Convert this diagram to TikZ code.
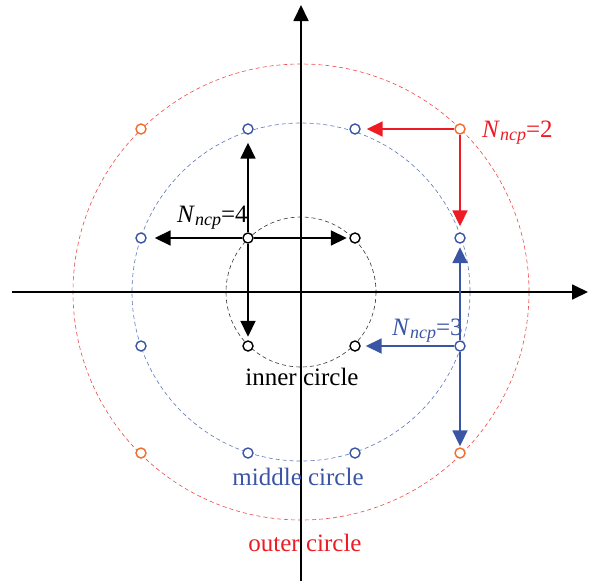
\documentclass[tikz,border=0pt]{standalone}
\usepackage{fontspec}
\setmainfont{Liberation Serif}
\usetikzlibrary{arrows.meta}
\definecolor{myred}{HTML}{ED1C24}
\definecolor{lred}{HTML}{F04848}
\definecolor{myblue}{HTML}{3A55A4}
\definecolor{lblue}{HTML}{5A74B8}
\definecolor{myorange}{HTML}{F26C2A}
\newcommand{\Nncp}[1]{\textit{N}\raisebox{-0.3ex}{\fontsize{18}{20}\selectfont\textit{ncp}}=#1}
\begin{document}
\begin{tikzpicture}[x=1pt,y=-1pt,
  pt/.style={circle,draw,line width=1.4pt,minimum size=10pt,inner sep=0pt,fill=white},
  arr/.style={line width=1.8pt,-{Triangle[length=16pt,width=15pt]}},
  ring/.style={dashed,dash pattern=on 4pt off 3pt,line width=0.6pt},
  lbl/.style={font=\fontsize{25}{30}\selectfont,inner sep=0pt,anchor=base}]
\useasboundingbox (0,0) rectangle (593,581);
% circles
\draw[ring,black!80] (301,292) circle[radius=75];
\draw[ring,lblue] (301,292) circle[radius=169];
\draw[ring,lred] (301,292) circle[radius=228];
% axes
\coordinate (xa) at (12,292);
\coordinate (xb) at (588,292);
\coordinate (ya) at (301,581);
\coordinate (yb) at (301,5);
\draw[arr] (xa) -- (xb);
\draw[arr] (ya) -- (yb);
% points
\node[pt,draw=myorange] (o1) at (141,129) {};
\node[pt,draw=myorange] (o2) at (460,129) {};
\node[pt,draw=myorange] (o3) at (141,453) {};
\node[pt,draw=myorange] (o4) at (460,453) {};
\node[pt,draw=myblue] (m1) at (248,129) {};
\node[pt,draw=myblue] (m2) at (355,129) {};
\node[pt,draw=myblue] (m3) at (141,238) {};
\node[pt,draw=myblue] (m4) at (460,238) {};
\node[pt,draw=myblue] (m5) at (141,346) {};
\node[pt,draw=myblue] (m6) at (460,346) {};
\node[pt,draw=myblue] (m7) at (248,453) {};
\node[pt,draw=myblue] (m8) at (355,453) {};
\node[pt,draw=black] (i1) at (248,238) {};
\node[pt,draw=black] (i2) at (355,238) {};
\node[pt,draw=black] (i3) at (248,346) {};
\node[pt,draw=black] (i4) at (355,346) {};
% arrows
\draw[arr,shorten >=8pt] (i1) -- (m1);
\draw[arr,shorten >=8pt] (i1) -- (m3);
\draw[arr,shorten >=2.5pt] (i1) -- (i2);
\draw[arr,shorten >=3.5pt] (i1) -- (i3);
\draw[arr,myred,shorten >=6pt] (o2) -- (m2);
\draw[arr,myred,shorten >=6pt] (o2) -- (m4);
\draw[arr,myblue,shorten >=3.5pt] (m6) -- (m4);
\draw[arr,myblue,shorten >=5pt] (m6) -- (i4);
\draw[arr,myblue,shorten >=1pt] (m6) -- (o4);
% labels
\node[lbl,anchor=base west] (n4) at (177,222) {\Nncp{4}};
\node[lbl,anchor=base west,text=myred] (n2) at (482,137) {\Nncp{2}};
\node[lbl,anchor=base west,text=myblue] (n3) at (392,335) {\Nncp{3}};
\node[lbl] (li) at (302,385) {inner circle};
\node[lbl,text=myblue] (lm) at (298,485) {middle circle};
\node[lbl,text=myred] (lo) at (305,551) {outer circle};
\end{tikzpicture}
\end{document}
